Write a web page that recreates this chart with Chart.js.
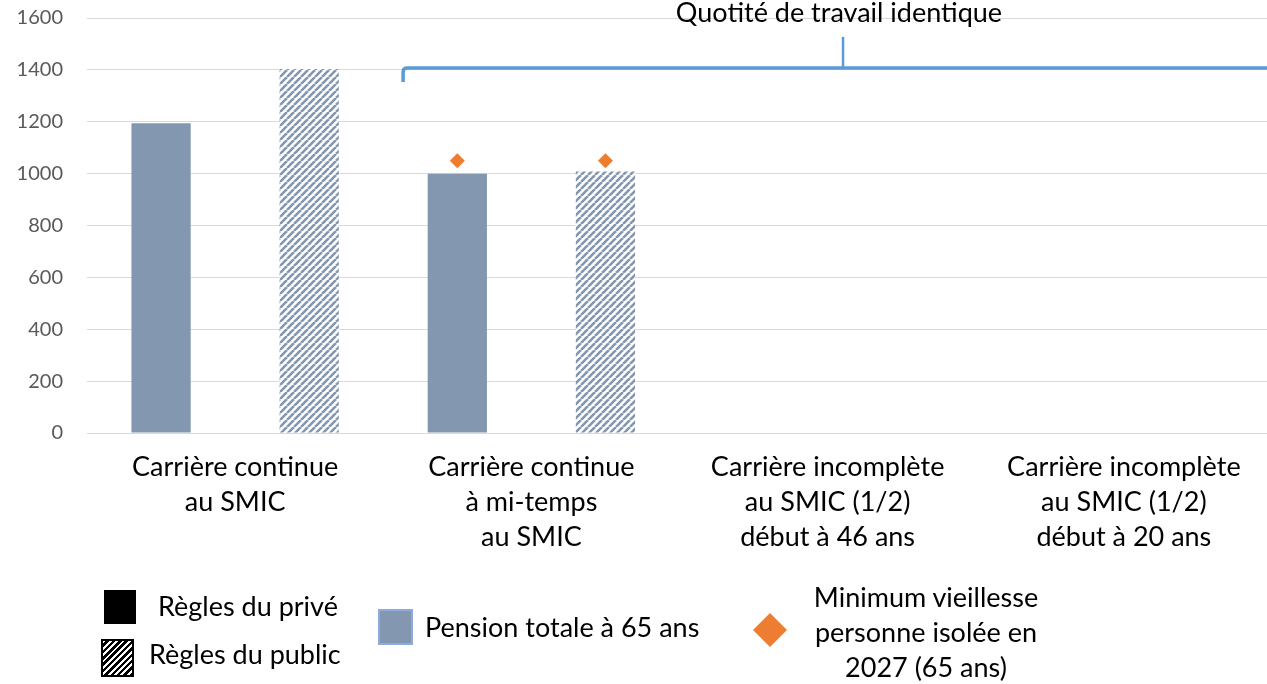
<!DOCTYPE html>
<html lang="fr">
<head>
<meta charset="utf-8">
<script src="https://cdn.jsdelivr.net/npm/chart.js@4.4.1/dist/chart.umd.min.js"></script>
<style>
  html, body { margin: 0; padding: 0; background: #fff; }
  #wrap { position: relative; width: 1267px; height: 684px; overflow: hidden; font-family: Lato, "Open Sans", sans-serif; color: #000; }
  #c { position: absolute; left: 0; top: 0; }
  .t { position: absolute; white-space: nowrap; font-size: 27px; line-height: 34px; }
  .sw { position: absolute; box-sizing: border-box; }
</style>
</head>
<body>
<div id="wrap">
  <canvas id="c" width="1272" height="684"></canvas>
  <div class="t" id="annot" style="left:639px; top:-5px; width:400px; text-align:center;">Quotité de travail identique</div>

  <div class="sw" style="left:104px; top:590px; width:32px; height:34px; background:#000;"></div>
  <div class="t" style="left:158px; top:589px;">Règles du privé</div>

  <div class="sw" style="left:101px; top:639px; width:33px; height:38px; border:2px solid #000;
       background: repeating-linear-gradient(135deg, #fff 0px, #fff 2px, #000 2px, #000 4.5px);"></div>
  <div class="t" style="left:149px; top:637px;">Règles du public</div>

  <div class="sw" style="left:378px; top:609px; width:35px; height:36px; background:#8497B0; border:2px solid #8FAADC;"></div>
  <div class="t" style="left:425px; top:610px;">Pension totale à 65 ans</div>

  <div class="sw" style="left:758px; top:618px; width:24px; height:24px; background:#ED7D31; transform:rotate(45deg);"></div>
  <div class="t" style="left:776px; top:579px; width:300px; text-align:center; line-height:35px; white-space:normal;">Minimum vieillesse<br>personne isolée en<br>2027 (65 ans)</div>
</div>
<script>
// ---- Data ----
const categories = [
  ["Carrière continue", "au SMIC"],
  ["Carrière continue", "à mi-temps", "au SMIC"],
  ["Carrière incomplète", "au SMIC (1/2)", "début à 46 ans"],
  ["Carrière incomplète", "au SMIC (1/2)", "début à 20 ans"]
];
const pensionPrive  = [1194, 1000, null, null];
const pensionPublic = [1403, 1008, null, null];
const minViePrive   = [null, 1050, null, null];
const minViePublic  = [null, 1050, null, null];
const yTicks = [0, 200, 400, 600, 800, 1000, 1200, 1400, 1600];
const bracketLevel = 1400;
const bracketFrom = 0.567;  // category units
const bracketTip = 2.052;

// ---- Styles ----
const SOLID = '#8497B0';
const ORANGE = '#ED7D31';
const BRACE = '#5B9BD5';

function hatch(color) {
  const P = 7;
  const c = document.createElement('canvas');
  c.width = P; c.height = P;
  const g = c.getContext('2d');
  g.fillStyle = '#fff'; g.fillRect(0, 0, P, P);
  g.strokeStyle = color; g.lineWidth = 2.6;
  g.beginPath();
  for (let k = -1; k <= 1; k++) { g.moveTo(k * P, P); g.lineTo(k * P + P, 0); }
  g.stroke();
  return g.createPattern(c, 'repeat');
}

const diamondPlugin = {
  id: 'diamonds',
  afterDatasetsDraw(chart) {
    const ctx = chart.ctx;
    const y = chart.scales.y;
    [[0, minViePrive], [1, minViePublic]].forEach(([di, vals]) => {
      const meta = chart.getDatasetMeta(di);
      vals.forEach((v, i) => {
        if (v == null) return;
        const px = meta.data[i].x, py = y.getPixelForValue(v), r = 7.5;
        ctx.save();
        ctx.fillStyle = ORANGE;
        ctx.beginPath();
        ctx.moveTo(px, py - r); ctx.lineTo(px + r, py); ctx.lineTo(px, py + r); ctx.lineTo(px - r, py);
        ctx.closePath(); ctx.fill();
        ctx.restore();
      });
    });
  }
};

const bracePlugin = {
  id: 'brace',
  afterDatasetsDraw(chart) {
    const ctx = chart.ctx;
    const xs = chart.scales.x, ys = chart.scales.y;
    const yy = ys.getPixelForValue(bracketLevel) - 2;
    const x0 = xs.getPixelForValue(bracketFrom);
    const xt = xs.getPixelForValue(bracketTip);
    const x1 = chart.chartArea.right + 10;
    ctx.save();
    ctx.strokeStyle = BRACE;
    ctx.lineWidth = 3.5;
    ctx.lineCap = 'butt';
    ctx.beginPath();
    ctx.moveTo(x0, yy + 14);
    ctx.lineTo(x0, yy + 4);
    ctx.quadraticCurveTo(x0, yy, x0 + 4, yy);
    ctx.lineTo(x1, yy);
    ctx.stroke();
    ctx.lineWidth = 2.5;
    ctx.beginPath();
    ctx.moveTo(xt, yy);
    ctx.lineTo(xt, yy - 31);
    ctx.stroke();
    ctx.restore();
  }
};

new Chart(document.getElementById('c'), {
  type: 'bar',
  data: {
    labels: categories,
    datasets: [
      { label: 'Règles du privé', data: pensionPrive, backgroundColor: SOLID, borderWidth: 0,
        categoryPercentage: 1.0, barPercentage: 0.4 },
      { label: 'Règles du public', data: pensionPublic, backgroundColor: hatch(SOLID), borderWidth: 0,
        categoryPercentage: 1.0, barPercentage: 0.4 }
    ]
  },
  options: {
    responsive: false,
    animation: false,
    events: [],
    layout: { padding: { top: 18, right: 0, bottom: 0, left: 0 } },
    plugins: { legend: { display: false }, tooltip: { enabled: false }, title: { display: false } },
    scales: {
      x: {
        grid: { display: false, drawTicks: false },
        border: { display: false },
        ticks: {
          color: '#000',
          font: { family: 'Lato', size: 27, lineHeight: 1.3 },
          padding: 17,
          maxRotation: 0, autoSkip: false
        },
        afterFit(s) { s.height = 251; }
      },
      y: {
        min: 0, max: 1600,
        afterBuildTicks(s) { s.ticks = yTicks.map(v => ({ value: v })); },
        grid: { color: '#D9D9D9', lineWidth: 1, drawTicks: false },
        border: { display: false },
        ticks: { color: '#595959', font: { family: 'Lato', size: 20 }, padding: 24,
                 callback: (v) => String(v) },
        afterFit(s) { s.width = 87; s.paddingTop = 0; s.paddingBottom = 0; }
      }
    }
  },
  plugins: [diamondPlugin, bracePlugin]
});
</script>
</body>
</html>
